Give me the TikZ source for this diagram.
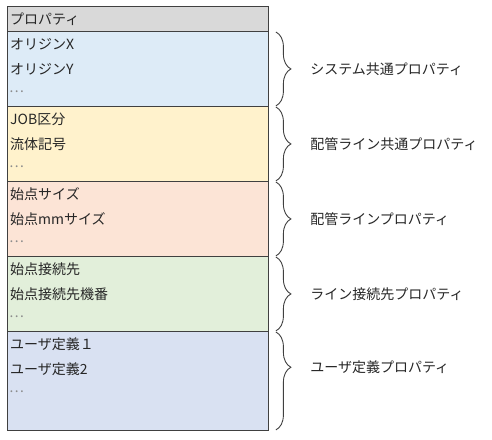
\documentclass[tikz,border=0pt]{standalone}
\usepackage{fontspec}
\newfontfamily\jpfont{Noto Sans CJK JP}
\usetikzlibrary{positioning, decorations.pathreplacing}
\definecolor{HeadGray}{HTML}{D9D9D9}
\definecolor{SysBlue}{HTML}{DDEBF7}
\definecolor{PipeYellow}{HTML}{FFF2CC}
\definecolor{LineSalmon}{HTML}{FCE4D6}
\definecolor{ConnGreen}{HTML}{E2EFDA}
\definecolor{UserLilac}{HTML}{D9E1F2}
\definecolor{TextGray}{HTML}{262626}
\definecolor{FrameGray}{HTML}{404040}

\begin{document}
\begin{tikzpicture}[
    x=1pt, y=-1pt,
    font=\jpfont\fontsize{14}{16}\selectfont, text=TextGray,
    sect/.style={draw=FrameGray, line width=0.9pt, anchor=north west,
        minimum width=261pt, inner sep=0pt},
    item/.style={anchor=west, inner sep=0pt},
    dots/.style={anchor=west, inner sep=0pt, text=black!45},
    curly/.style={draw=black!75, line width=0.9pt,
        decorate, decoration={brace, amplitude=15pt, aspect=#1}},
    curly/.default=0.5,
    grp/.style={anchor=west, inner sep=0pt, xshift=34pt},
]
\useasboundingbox (0,0) rectangle (492,439);

% ---- sections ----
\node[sect, fill=HeadGray, minimum height=25pt] (head) at (7,6) {};
\node[sect, fill=SysBlue, minimum height=75pt] (sys) at (7,31) {};
\node[sect, fill=PipeYellow, minimum height=75pt] (pipe) at (7,106) {};
\node[sect, fill=LineSalmon, minimum height=75pt] (line) at (7,181) {};
\node[sect, fill=ConnGreen, minimum height=75pt] (conn) at (7,256) {};
\node[sect, fill=UserLilac, minimum height=99pt] (user) at (7,331) {};

% ---- items ----
\node[item] (hd) at (10,19) {プロパティ};
\node[item] (ox) at (10,44) {オリジンX};
\node[item] (oy) at (10,69) {オリジンY};
\node[item] (job) at (10,119) {JOB区分};
\node[item] (fl) at (10,144) {流体記号};
\node[item] (ss) at (10,194) {始点サイズ};
\node[item] (smm) at (10,219) {始点mmサイズ};
\node[item] (sc) at (10,269) {始点接続先};
\node[item] (scn) at (10,294) {始点接続先機番};
\node[item] (u1) at (10,344) {ユーザ定義１};
\node[item] (u2) at (10,369) {ユーザ定義2};
\foreach \y/\n in {92/d1, 167/d2, 242/d3, 317/d4, 392/d5}
    \node[dots] (\n) at (9,\y) {…};

% ---- braces ----
\draw[curly] ([xshift=7pt, yshift=-1pt]sys.north east) -- ([xshift=7pt, yshift=1pt]sys.south east)
    node[midway, grp] (sysl) {システム共通プロパティ};
\draw[curly] ([xshift=7pt, yshift=-1pt]pipe.north east) -- ([xshift=7pt, yshift=1pt]pipe.south east)
    node[midway, grp] (pipel) {配管ライン共通プロパティ};
\draw[curly] ([xshift=7pt, yshift=-1pt]line.north east) -- ([xshift=7pt, yshift=1pt]line.south east)
    node[midway, grp] (linel) {配管ラインプロパティ};
\draw[curly] ([xshift=7pt, yshift=-1pt]conn.north east) -- ([xshift=7pt, yshift=1pt]conn.south east)
    node[midway, grp] (connl) {ライン接続先プロパティ};
\draw[curly=0.36] ([xshift=7pt, yshift=-1pt]user.north east) -- ([xshift=7pt, yshift=1pt]user.south east)
    node[pos=0.36, grp] (userl) {ユーザ定義プロパティ};

\end{tikzpicture}
\end{document}
